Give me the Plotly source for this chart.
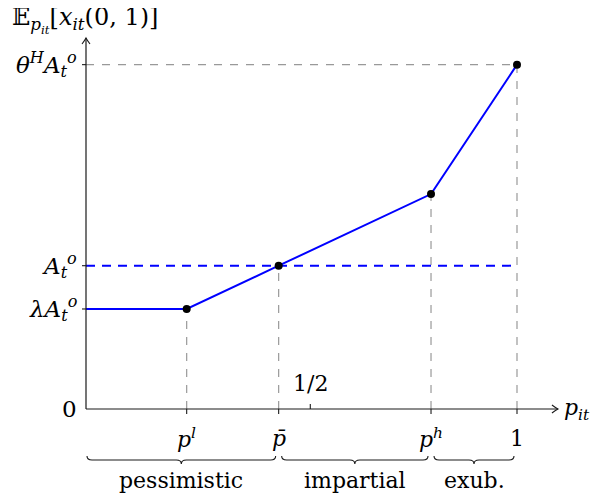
import plotly.graph_objects as go

# ---------------- data ----------------
kink_x = [0.2336, 0.447, 0.8005, 1.0]          # p^l, p-bar, p^h, 1
kink_y = [0.698, 1.0, 1.50, 2.403]             # value of E[x] at each kink
kink_labels = ["<i>p</i><sup><i>l</i></sup>", "<i>p̄</i>", "<i>p</i><sup><i>h</i></sup>", "1"]
start_x = 0.0
start_y = 0.698                                 # lambda A_t^o
ref_level = 1.0                                 # A_t^o
half_x = 0.5204                                 # tick "1/2"
half_label = "1/2"
level_values = [2.403, 1.0, 0.698, 0.0]
level_labels = ["<i>θ</i><sup><i>H</i></sup><i>A</i><sub><i>t</i></sub><sup><i>o</i></sup>",
                "<i>A</i><sub><i>t</i></sub><sup><i>o</i></sup>",
                "<i>λA</i><sub><i>t</i></sub><sup><i>o</i></sup>",
                "0"]
segment_labels = ["pessimistic", "impartial", "exub."]
x_axis_end = 1.095
y_axis_end = 2.589
y_title = "𝔼<sub><i>p</i><sub><i>it</i></sub></sub>[<i>x</i><sub><i>it</i></sub>(0, 1)]"
x_title = "<i>p</i><sub><i>it</i></sub>"

# ---------------- geometry helpers (pixel -> data) ----------------
OFF = 8                       # page body margin
W, H = 600 - OFF, 499 - OFF
X0, XS = 86.0 - OFF, 431.0
Y0, YS = 409.0 - OFF, 143.3
def dx(px): return px / XS
def dy(px): return px / YS
def ypix(py): return (Y0 - (py - OFF)) / YS   # page pixel row -> data y

FONT = "DejaVu Serif"
FS = 22
BLUE = "#0000ff"
GRAY = "#999999"
AX = "#1a1a1a"

fig = go.Figure()

# gray dashed guides
gx, gy = [], []
for x, y in zip(kink_x, kink_y):
    gx += [x, x, None]
    gy += [0, y, None]
gx += [0, kink_x[-1], None]
gy += [kink_y[-1], kink_y[-1], None]
fig.add_trace(go.Scatter(x=gx, y=gy, mode="lines",
                         line=dict(color=GRAY, width=1.2, dash="8px,8px"),
                         hoverinfo="skip", showlegend=False))

# blue dashed reference level
fig.add_trace(go.Scatter(x=[0, kink_x[-1]], y=[ref_level, ref_level], mode="lines",
                         line=dict(color=BLUE, width=2, dash="9px,7px"),
                         hoverinfo="skip", showlegend=False))

# blue piecewise line
fig.add_trace(go.Scatter(x=[start_x] + kink_x, y=[start_y] + kink_y, mode="lines",
                         line=dict(color=BLUE, width=2),
                         hoverinfo="skip", showlegend=False))

# black dots
fig.add_trace(go.Scatter(x=kink_x, y=kink_y, mode="markers",
                         marker=dict(color="black", size=8),
                         hoverinfo="skip", showlegend=False))

shapes = []
# axes
shapes.append(dict(type="line", xref="x", yref="y", x0=0, y0=0, x1=x_axis_end, y1=0,
                   line=dict(color=AX, width=1.2)))
shapes.append(dict(type="line", xref="x", yref="y", x0=0, y0=0, x1=0, y1=y_axis_end,
                   line=dict(color=AX, width=1.2)))
# arrow heads
def arrow_x(tx, ty):
    return (f"M {tx-dx(6)},{ty+dy(4)} Q {tx-dx(2)},{ty+dy(1)} {tx},{ty} "
            f"Q {tx-dx(2)},{ty-dy(1)} {tx-dx(6)},{ty-dy(4)}")
def arrow_y(tx, ty):
    return (f"M {tx-dx(4)},{ty-dy(6)} Q {tx-dx(1)},{ty-dy(2)} {tx},{ty} "
            f"Q {tx+dx(1)},{ty-dy(2)} {tx+dx(4)},{ty-dy(6)}")
shapes.append(dict(type="path", xref="x", yref="y", path=arrow_x(x_axis_end, 0),
                   line=dict(color=AX, width=1.1)))
shapes.append(dict(type="path", xref="x", yref="y", path=arrow_y(0, y_axis_end),
                   line=dict(color=AX, width=1.1)))
# ticks
for x in kink_x:
    shapes.append(dict(type="line", xref="x", yref="y", x0=x, y0=0, x1=x, y1=-dy(5),
                       line=dict(color=AX, width=1.1)))
shapes.append(dict(type="line", xref="x", yref="y", x0=half_x, y0=0, x1=half_x, y1=dy(5),
                   line=dict(color=AX, width=1.1)))
for v in level_values[:-1]:
    shapes.append(dict(type="line", xref="x", yref="y", x0=-dx(4), y0=v, x1=0, y1=v,
                       line=dict(color=AX, width=1.1)))

# braces
brace_ranges = [(0.0 + dx(1), kink_x[1] - dx(3)),
                (kink_x[1] + dx(3), kink_x[2] - dx(3)),
                (kink_x[2] + dx(3), kink_x[3] - dx(3))]
yt, ym, yb = ypix(456), ypix(460), ypix(464)
for a, b in brace_ranges:
    m = (a + b) / 2
    d = dx(5)
    p = (f"M {a},{yt} Q {a},{ym} {a+d},{ym} L {m-d},{ym} Q {m},{ym} {m},{yb} "
         f"Q {m},{ym} {m+d},{ym} L {b-d},{ym} Q {b},{ym} {b},{yt}")
    shapes.append(dict(type="path", xref="x", yref="y", path=p,
                       line=dict(color=AX, width=1.1)))

ann = []
def txt(x, y, t, xa="center", ya="middle", size=FS, xs=0, ys=0):
    ann.append(dict(x=x, y=y, xref="x", yref="y", text=t, showarrow=False,
                    xanchor=xa, yanchor=ya, xshift=xs, yshift=ys,
                    font=dict(family=FONT, size=size, color="black")))

for v, t in zip(level_values, level_labels):
    txt(0, v, t, xa="right", xs=-7, size=23)
for x, t in zip(kink_x, kink_labels):
    txt(x, ypix(438), t)
txt(half_x, ypix(383), half_label)
for (a, b), t in zip(brace_ranges, segment_labels):
    txt((a + b) / 2, ypix(480), t, size=FS)
txt(x_axis_end, 0, x_title, xa="left", xs=4)
txt(-X0 / XS, ypix(20), y_title, xa="left", xs=2, size=24)

fig.update_layout(
    width=W, height=H, margin=dict(l=0, r=0, t=0, b=0),
    paper_bgcolor="white", plot_bgcolor="white",
    xaxis=dict(range=[-X0 / XS, (W - X0) / XS], visible=False, fixedrange=True),
    yaxis=dict(range=[-(H - Y0) / YS, Y0 / YS], visible=False, fixedrange=True),
    shapes=shapes, annotations=ann, showlegend=False,
)
fig.write_html("out.html")
